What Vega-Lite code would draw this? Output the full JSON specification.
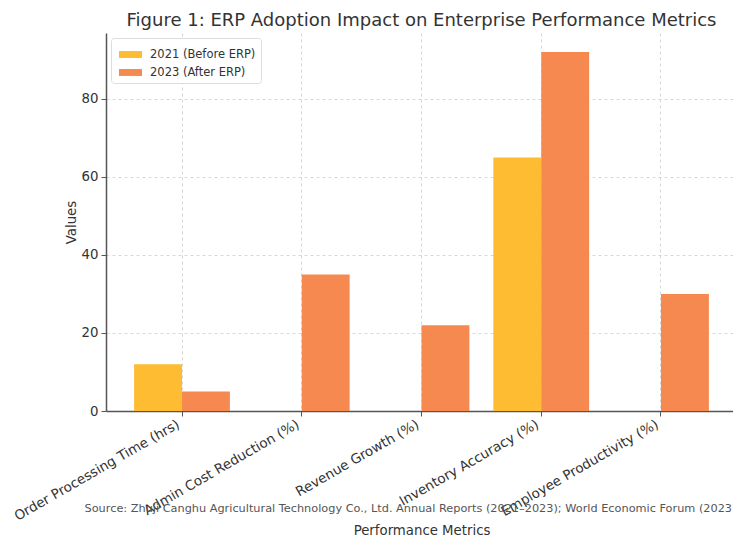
{
  "$schema": "https://vega.github.io/schema/vega-lite/v6.json",
  "autosize": "none",
  "padding": {"left": 106, "top": 33, "right": 0, "bottom": 126},
  "width": 631,
  "height": 378,
  "background": "white",
  "config": {
    "font": "DejaVu Sans",
    "view": {"stroke": null},
    "axis": {"labelFont": "DejaVu Sans", "titleFont": "DejaVu Sans", "labelColor": "#333333", "titleColor": "#333333", "titleFontWeight": "normal", "labelFontSize": 13.3, "titleFontSize": 13.3, "domainColor": "#555555", "domainWidth": 1.5, "tickColor": "#555555", "gridColor": "#cccccc", "gridDash": [3, 3], "gridWidth": 0.8}
  },
  "title": {"text": "Figure 1: ERP Adoption Impact on Enterprise Performance Metrics", "fontSize": 18, "fontWeight": "normal", "color": "#333333", "font": "DejaVu Sans", "offset": 3, "anchor": "middle"},
  "data": {"values": [
    {"metric": "Order Processing Time (hrs)", "year": "2021 (Before ERP)", "value": 12},
    {"metric": "Order Processing Time (hrs)", "year": "2023 (After ERP)", "value": 5},
    {"metric": "Admin Cost Reduction (%)", "year": "2021 (Before ERP)", "value": 0},
    {"metric": "Admin Cost Reduction (%)", "year": "2023 (After ERP)", "value": 35},
    {"metric": "Revenue Growth (%)", "year": "2021 (Before ERP)", "value": 0},
    {"metric": "Revenue Growth (%)", "year": "2023 (After ERP)", "value": 22},
    {"metric": "Inventory Accuracy (%)", "year": "2021 (Before ERP)", "value": 65},
    {"metric": "Inventory Accuracy (%)", "year": "2023 (After ERP)", "value": 92},
    {"metric": "Employee Productivity (%)", "year": "2021 (Before ERP)", "value": 0},
    {"metric": "Employee Productivity (%)", "year": "2023 (After ERP)", "value": 30}
  ]},
  "layer": [
    {
      "mark": {"type": "bar"},
      "encoding": {
        "x": {"field": "metric", "type": "nominal", "sort": null,
          "scale": {"paddingInner": 0.2, "paddingOuter": 0.2347},
          "axis": {"title": "Performance Metrics", "labelAngle": -30, "labelAlign": "right", "labelBaseline": "top", "labelLimit": 0, "labelOffset": -7, "labelFontSize": 13.5, "bandPosition": 0.5, "grid": true, "tickSize": 5, "labelPadding": 1, "titleY": 112}},
        "xOffset": {"field": "year", "type": "nominal", "scale": {"paddingInner": 0, "paddingOuter": 0}},
        "y": {"field": "value", "type": "quantitative", "scale": {"domain": [0, 96.9], "nice": false},
          "axis": {"title": "Values", "values": [0, 20, 40, 60, 80], "tickSize": 5, "labelPadding": 3, "titlePadding": 3}},
        "color": {"field": "year", "type": "nominal",
          "scale": {"domain": ["2021 (Before ERP)", "2023 (After ERP)"], "range": ["#FDBC31", "#F5894F"]},
          "legend": {"title": null, "orient": "top-left", "offset": 5, "padding": 5, "fillColor": "white", "strokeColor": "#dddddd", "cornerRadius": 3, "symbolType": "M-1,-0.3H1V0.3H-1Z", "symbolSize": 529, "symbolStrokeWidth": 0, "labelFontSize": 11.5, "labelColor": "#333333", "labelFont": "DejaVu Sans", "rowPadding": 1, "symbolOffset": 3, "labelOffset": 8}}
      }
    },
    {
      "data": {"values": [{"label": "Source: Zhuji Canghu Agricultural Technology Co., Ltd. Annual Reports (2021–2023); World Economic Forum (2023)"}]},
      "mark": {"type": "text", "fontSize": 11.3, "color": "#555555", "font": "DejaVu Sans", "align": "center", "baseline": "middle", "dx": -11},
      "encoding": {
        "x": {"datum": "Revenue Growth (%)", "bandPosition": 0.5},
        "y": {"datum": -25.1},
        "text": {"field": "label"}
      }
    }
  ]
}
